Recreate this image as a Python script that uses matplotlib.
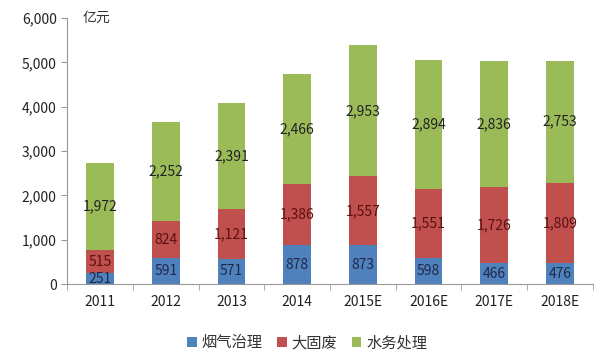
import matplotlib
matplotlib.use("Agg")
import matplotlib.pyplot as plt
import numpy as np

plt.rcParams['font.family'] = ['Noto Sans CJK SC', 'DejaVu Sans']

years = ['2011', '2012', '2013', '2014', '2015E', '2016E', '2017E', '2018E']
flue_gas = [251, 591, 571, 878, 873, 598, 466, 476]        # 烟气治理
solid_waste = [515, 824, 1121, 1386, 1557, 1551, 1726, 1809]  # 大固废
water = [1972, 2252, 2391, 2466, 2953, 2894, 2836, 2753]   # 水务处理
series_names = ['烟气治理', '大固废', '水务处理']

colors = ['#4F81BD', '#C0504D', '#9BBB59']
label_colors = ['#1F2A4A', '#5A1010', '#222222']

fig = plt.figure(figsize=(6, 3.61), dpi=100)
ax = fig.add_axes([0.112, 0.213, 0.876, 0.737])

x = np.arange(len(years))
bottom = np.zeros(len(years))
for vals, name, col, lcol in zip([flue_gas, solid_waste, water], series_names, colors, label_colors):
    bars = ax.bar(x, vals, width=0.42, bottom=bottom, color=col, label=name)
    ax.bar_label(bars, labels=[f'{v:,}' for v in vals], label_type='center',
                 fontsize=10, color=lcol)
    bottom += np.array(vals)

ax.set_xlim(-0.5, len(years) - 0.5)
ax.set_ylim(0, 6000)
ax.set_yticks(range(0, 6001, 1000))
ax.set_yticklabels([f'{v:,}' for v in range(0, 6001, 1000)])
ax.set_xticks(x)
ax.set_xticklabels(years)
ax.set_xticks(np.arange(-0.5, len(years)), minor=True)
ax.tick_params(axis='x', which='major', length=0, pad=8, labelsize=10, labelcolor='#222222')
ax.tick_params(axis='x', which='minor', length=4, color='#999999')
ax.tick_params(axis='y', length=4, color='#999999', labelsize=10, labelcolor='#222222')

for s in ['top', 'right']:
    ax.spines[s].set_visible(False)
for s in ['left', 'bottom']:
    ax.spines[s].set_color('#999999')

ax.text(0.03, 1.0, '亿元', transform=ax.transAxes, fontsize=10, color='#333333',
        va='center', ha='left')

fig.legend(*ax.get_legend_handles_labels(), loc='center', bbox_to_anchor=(0.512, 0.05),
           ncol=3, frameon=False, fontsize=11, handlelength=0.6, handleheight=0.6,
           columnspacing=1.0, handletextpad=0.3, labelcolor='#333333')

fig.savefig('out.png', dpi=100, facecolor='white')
